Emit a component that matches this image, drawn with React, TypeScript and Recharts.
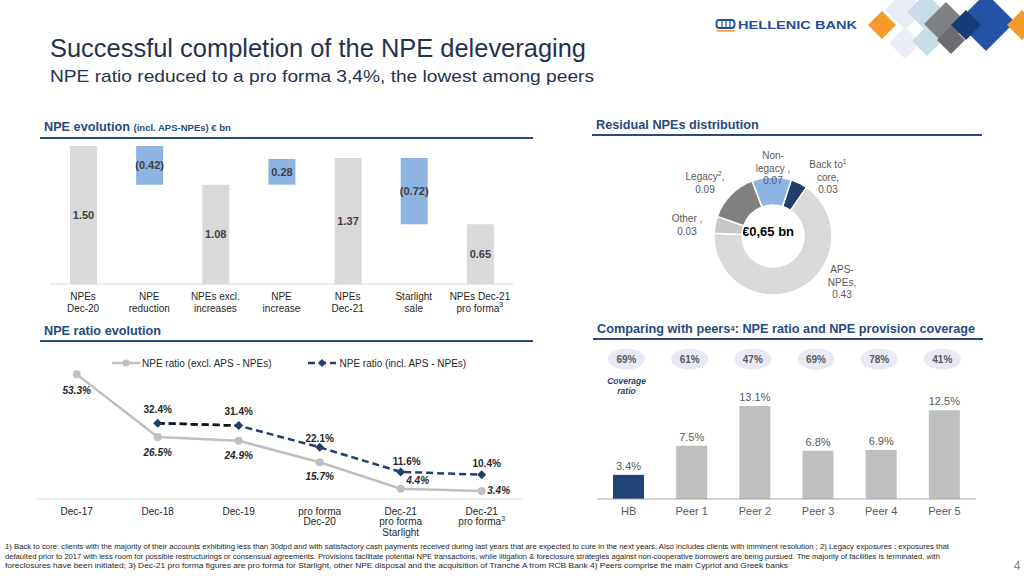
import React from "react";
import { BarChart, Bar, XAxis, YAxis, Cell, LabelList, PieChart, Pie, LineChart, Line } from "recharts";

const FONT = '"Liberation Sans", Arial, Helvetica, sans-serif';
const NAVY = "#1F3F6E";
const HEAD = "#264B7D";

// NPE evolution (incl. APS-NPEs), € bn
const wfCategories = ["NPEs\nDec-20", "NPE\nreduction", "NPEs excl.\nincreases", "NPE\nincrease", "NPEs\nDec-21", "Starlight\nsale", "NPEs Dec-21\npro forma^3"];
const wfBase = [0, 1.08, 0, 1.08, 0, 0.65, 0];
const wfValue = [1.5, 0.42, 1.08, 0.28, 1.37, 0.72, 0.65];
const wfLabels = ["1.50", "(0.42)", "1.08", "0.28", "1.37", "(0.72)", "0.65"];
const wfIsTotal = [true, false, true, false, true, false, true];

// Residual NPEs distribution, € bn (clockwise from the top)
const resNames = ["Back to core", "APS-NPEs", "Other", "Legacy", "Non-legacy"];
const resValues = [0.03, 0.43, 0.03, 0.09, 0.07];
const resLabelLines = [["Back to^1", "core,"], ["APS-", "NPEs,"], ["Other ,"], ["Legacy^2,"], ["Non-", "legacy ,"]];
const resColors = ["#1F3F6E", "#D9D9D9", "#C8C8C8", "#808080", "#8DB4E2"];
const resLabelPos = [[55, -59], [69, 46], [-86, -11], [-68, -53], [0, -68]];

// NPE ratio evolution, %
const ratioCategories = ["Dec-17", "Dec-18", "Dec-19", "pro forma\nDec-20", "Dec-21\npro forma\nStarlight", "Dec-21\npro forma^3"];
const ratioExclAps = [53.3, 26.5, 24.9, 15.7, 4.4, 3.4];
const ratioInclAps: (number | null)[] = [null, 32.4, 31.4, 22.1, 11.6, 10.4];
const exclLabelPos = [[0, 16], [0, 15], [0, 15], [0, 14], [17, -8], [17, -1]];
const inclLabelPos = [[0, 0], [0, -14], [0, -14], [0, -9], [6, -10], [5, -11]];

// Peers: NPE ratio (%) and coverage (%)
const peerNames = ["HB", "Peer 1", "Peer 2", "Peer 3", "Peer 4", "Peer 5"];
const peerNpeRatio = [3.4, 7.5, 13.1, 6.8, 6.9, 12.5];
const peerCoverage = [69, 61, 47, 69, 78, 41];

const footnotes = [
  "1) Back to core: clients with the majority of their accounts exhibiting less than 30dpd and with satisfactory cash payments received during last years that are expected to cure in the next years. Also includes clients with imminent resolution ;  2) Legacy exposures : exposures that",
  "defaulted prior to 2017 with less room for possible restructurings or consensual agreements. Provisions facilitate potential NPE transactions, while litigation & foreclosure strategies against non-cooperative borrowers are being pursued. The majority of facilities is terminated, with",
  "foreclosures have been initiated; 3) Dec-21 pro forma figures are pro forma for Starlight, other NPE disposal and the acquisition of Tranche A from RCB Bank 4) Peers comprise the main Cypriot and Greek banks",
];
const footnoteWidths = [944, 935, 783];

const wfData = wfCategories.map((c, i) => ({ name: c, base: wfBase[i], value: wfValue[i], label: wfLabels[i] }));
const resData = resNames.map((n, i) => ({ name: n, value: resValues[i] }));
const ratioData = ratioCategories.map((c, i) => ({
  name: c,
  excl: ratioExclAps[i],
  incl: ratioInclAps[i],
  inclFirst: i === 1 || i === 2 ? ratioInclAps[i] : null,
}));
const peerData = peerNames.map((n, i) => ({ name: n, ratio: peerNpeRatio[i], coverage: peerCoverage[i] }));

function renderSup(s: string, fs: number) {
  const parts = s.split(/\^(\d)/);
  if (parts.length === 1) return s;
  return (
    <>
      {parts[0]}
      <tspan dy={-fs * 0.45} fontSize={fs * 0.7}>{parts[1]}</tspan>
      {parts[2] ? <tspan dy={fs * 0.45}>{parts[2]}</tspan> : null}
    </>
  );
}

function MultiLineTick(props: any) {
  const { x, y, payload, lineHeight, fontSize, fill, firstDy } = props;
  const lines = String(payload.value).split("\n");
  return (
    <text x={x} y={y} textAnchor="middle" fontSize={fontSize} fill={fill} fontFamily={FONT}>
      {lines.map((l: string, i: number) => (
        <tspan key={i} x={x} y={y + firstDy + i * lineHeight}>{renderSup(l, fontSize)}</tspan>
      ))}
    </text>
  );
}

function SectionHeader({ left, top, width, children }: { left: number; top: number; width: number; children: React.ReactNode }) {
  return (
    <div style={{ position: "absolute", left, top, width }}>
      <div style={{ fontWeight: "bold", fontSize: 12.7, color: HEAD, paddingLeft: 4, whiteSpace: "nowrap", lineHeight: "14px" }}>{children}</div>
      <div style={{ marginTop: 2, height: 2, background: HEAD }} />
    </div>
  );
}

const logoDiamonds = [
  { cx: 905, cy: 10, r: 20, fill: "#E9EBF5" },
  { cx: 905, cy: 43, r: 16, fill: "#ECEEF6" },
  { cx: 882, cy: 25, r: 14, fill: "#F39A2B" },
  { cx: 926, cy: 12, r: 19, fill: "#C9DDE9" },
  { cx: 927, cy: 41, r: 15, fill: "#C9DDE9" },
  { cx: 946, cy: 24, r: 22, fill: "#7E8083" },
  { cx: 951, cy: 40, r: 14, fill: "#6B6D70" },
  { cx: 986, cy: 22, r: 29, fill: "#2452A4" },
  { cx: 966, cy: 25, r: 15, fill: "#173B73" },
  { cx: 1022, cy: 25, r: 15, fill: "#F39A2B" },
];

function Diamond(props: any) {
  const { cx, cy, index, value } = props;
  if (cx == null || cy == null || value == null) return <g key={`dm-${index}`} />;
  const h = 4.5;
  return <polygon key={`dm-${index}`} points={`${cx},${cy - h} ${cx + h},${cy} ${cx},${cy + h} ${cx - h},${cy}`} fill={NAVY} />;
}

function ExclLabel(props: any) {
  const { x, y, value, index } = props;
  if (value == null) return null;
  const [dx, dy] = exclLabelPos[index];
  return (
    <text x={x + dx} y={y + dy} textAnchor="middle" dominantBaseline="central" fontSize={10} fontWeight="bold" fontStyle="italic" fill="#262626" fontFamily={FONT}>
      {Number(value).toFixed(1)}%
    </text>
  );
}

function InclLabel(props: any) {
  const { x, y, value, index } = props;
  if (value == null) return null;
  const [dx, dy] = inclLabelPos[index];
  return (
    <text x={x + dx} y={y + dy} textAnchor="middle" dominantBaseline="central" fontSize={10} fontWeight="bold" fill="#262626" fontFamily={FONT}>
      {Number(value).toFixed(1)}%
    </text>
  );
}

function CoverageBubble(props: any) {
  const { x, width, value, index } = props;
  const cx = Number(x) + Number(width) / 2 - 2;
  return (
    <g>
      <ellipse cx={cx} cy={14} rx={18.5} ry={10.5} fill="#E8E9F5" />
      <text x={cx} y={14} textAnchor="middle" dominantBaseline="central" fontSize={10} fontWeight="bold" fill="#595959" fontFamily={FONT}>
        {value}%
      </text>
      {index === 0 && (
        <text x={cx} y={36} textAnchor="middle" fontSize={8.5} fontWeight="bold" fontStyle="italic" fill={NAVY} fontFamily={FONT}>
          <tspan x={cx} dy={3}>Coverage</tspan>
          <tspan x={cx} dy={10}>ratio</tspan>
        </text>
      )}
    </g>
  );
}

function renderResLabel(props: any) {
  const { cx, cy, index } = props;
  const [dx, dy] = resLabelPos[index];
  const lines = [...resLabelLines[index], resValues[index].toFixed(2)];
  const lh = 12.5;
  const x = cx + dx;
  const y0 = cy + dy - ((lines.length - 1) * lh) / 2;
  return (
    <text key={`rl-${index}`} x={x} y={y0} textAnchor="middle" fontSize={10} fill="#595959" fontFamily={FONT}>
      {lines.map((l, i) => (
        <tspan key={i} x={x} y={y0 + i * lh + 3.5}>{renderSup(l, 10)}</tspan>
      ))}
    </text>
  );
}

export default function App() {
  return (
    <div style={{ position: "relative", width: 1024, height: 576, overflow: "hidden", background: "#fff", fontFamily: FONT }}>
      <style>{"body{margin:0}"}</style>

      {/* title + logo */}
      <svg width={1024} height={100} style={{ position: "absolute", left: 0, top: 0 }}>
        {logoDiamonds.map((d, i) => (
          <polygon key={i} points={`${d.cx},${d.cy - d.r} ${d.cx + d.r},${d.cy} ${d.cx},${d.cy + d.r} ${d.cx - d.r},${d.cy}`} fill={d.fill} />
        ))}
        <rect x={716.5} y={20} width={18} height={8} rx={3} fill="none" stroke="#1F4E9A" strokeWidth={1.8} />
        <line x1={722} y1={21} x2={722} y2={27} stroke="#1F4E9A" strokeWidth={1.2} />
        <line x1={726} y1={21} x2={726} y2={27} stroke="#1F4E9A" strokeWidth={1.2} />
        <line x1={730} y1={21} x2={730} y2={27} stroke="#1F4E9A" strokeWidth={1.2} />
        <rect x={716.5} y={30} width={18} height={1.6} fill="#F39A2B" />
        <text x={738} y={29} fontSize={11} fontWeight="bold" fill="#1F4E9A" textLength={119} lengthAdjust="spacingAndGlyphs" fontFamily={FONT}>
          HELLENIC BANK
        </text>
        <text x={50} y={57} fontSize={26} fill="#1F3350" textLength={536} lengthAdjust="spacingAndGlyphs" fontFamily={FONT}>
          Successful completion of the NPE deleveraging
        </text>
        <text x={50} y={82} fontSize={17} fill="#1F3350" textLength={544} lengthAdjust="spacingAndGlyphs" fontFamily={FONT}>
          NPE ratio reduced to a pro forma 3,4%, the lowest among peers
        </text>
      </svg>

      <SectionHeader left={40} top={120} width={493}>
        NPE evolution <span style={{ fontSize: 9.5 }}>(incl. APS-NPEs) € bn</span>
      </SectionHeader>
      <SectionHeader left={592} top={118} width={390}>Residual NPEs distribution</SectionHeader>
      <SectionHeader left={40} top={324} width={493}>NPE ratio evolution</SectionHeader>
      <SectionHeader left={593} top={322} width={390}>
        Comparing with peers<span style={{ fontSize: 8, verticalAlign: "top" }}>4</span>: NPE ratio and NPE provision coverage
      </SectionHeader>

      {/* waterfall */}
      <div style={{ position: "absolute", left: 40, top: 136 }}>
        <BarChart width={490} height={180} data={wfData} margin={{ top: 10, right: 17, left: 10, bottom: 0 }}>
          <XAxis
            dataKey="name"
            height={32}
            interval={0}
            tickLine={false}
            axisLine={{ stroke: "#D9D9D9" }}
            tick={(p: any) => <MultiLineTick {...p} lineHeight={11.5} fontSize={10} fill="#262626" firstDy={8} />}
          />
          <YAxis hide domain={[0, 1.5]} />
          <Bar dataKey="base" stackId="w" fill="transparent" barSize={27} isAnimationActive={false} />
          <Bar dataKey="value" stackId="w" barSize={27} isAnimationActive={false}>
            {wfData.map((_, i) => (
              <Cell key={i} fill={wfIsTotal[i] ? "#D9D9D9" : "#8DB4E2"} />
            ))}
            <LabelList dataKey="label" position="center" fill="#404040" fontSize={11} fontWeight="bold" fontFamily={FONT} />
          </Bar>
        </BarChart>
      </div>

      {/* donut */}
      <div style={{ position: "absolute", left: 640, top: 140 }}>
        <PieChart width={240} height={170}>
          <Pie
            data={resData}
            dataKey="value"
            nameKey="name"
            cx={128}
            cy={91}
            innerRadius={31}
            outerRadius={59}
            startAngle={72}
            endAngle={-288}
            stroke="#fff"
            strokeWidth={1.5}
            label={renderResLabel}
            labelLine={false}
            isAnimationActive={false}
          >
            {resData.map((_, i) => (
              <Cell key={i} fill={resColors[i]} />
            ))}
          </Pie>
          <text x={128} y={91} textAnchor="middle" dominantBaseline="central" fontSize={13} fontWeight="bold" fill="#000" fontFamily={FONT}>
            €0,65 bn
          </text>
        </PieChart>
      </div>

      {/* ratio legend */}
      <div style={{ position: "absolute", left: 110, top: 357, display: "flex", alignItems: "center", fontSize: 10, color: "#262626", whiteSpace: "nowrap" }}>
        <svg width={32} height={12}>
          <line x1={2} y1={6} x2={30} y2={6} stroke="#BFBFBF" strokeWidth={2.5} />
          <circle cx={16} cy={6} r={3.5} fill="#BFBFBF" />
        </svg>
        <span style={{ marginRight: 36 }}>NPE ratio (excl. APS - NPEs)</span>
        <svg width={30} height={12}>
          <line x1={1} y1={6} x2={29} y2={6} stroke={NAVY} strokeWidth={2.5} strokeDasharray="7 4" />
          <polygon points="15,2 19,6 15,10 11,6" fill={NAVY} />
        </svg>
        <span style={{ marginLeft: 2 }}>NPE ratio (incl. APS - NPEs)</span>
      </div>

      {/* NPE ratio lines */}
      <div style={{ position: "absolute", left: 30, top: 345 }}>
        <LineChart width={500} height={195} data={ratioData} margin={{ top: 13.7, right: 7.8, left: 6.2, bottom: 0 }}>
          <XAxis
            dataKey="name"
            height={41}
            interval={0}
            padding={{ left: 40.5, right: 40.5 }}
            tickLine={false}
            axisLine={{ stroke: "#D9D9D9" }}
            tick={(p: any) => <MultiLineTick {...p} lineHeight={10.5} fontSize={10} fill="#262626" firstDy={7.5} />}
          />
          <YAxis hide domain={[0, 60]} />
          <Line dataKey="excl" stroke="#BFBFBF" strokeWidth={2.5} dot={{ r: 4, fill: "#BFBFBF", stroke: "#BFBFBF", strokeWidth: 0 }} isAnimationActive={false}>
            <LabelList dataKey="excl" content={ExclLabel} />
          </Line>
          <Line dataKey="incl" stroke={NAVY} strokeWidth={2.5} strokeDasharray="7 4" dot={false} isAnimationActive={false} />
          <Line dataKey="inclFirst" stroke="#111" strokeWidth={2.5} strokeDasharray="7 4" dot={false} isAnimationActive={false} />
          <Line dataKey="incl" stroke="none" dot={Diamond} activeDot={false} isAnimationActive={false}>
            <LabelList dataKey="incl" content={InclLabel} />
          </Line>
        </LineChart>
      </div>

      {/* peers */}
      <div style={{ position: "absolute", left: 590, top: 345 }}>
        <BarChart width={400} height={185} data={peerData} margin={{ top: 5, right: 14, left: 7, bottom: 0 }}>
          <XAxis dataKey="name" height={31} interval={0} tickLine={false} axisLine={{ stroke: "#A6A6A6" }} tick={{ fontSize: 11, fill: "#595959", fontFamily: FONT }} />
          <YAxis hide domain={[0, 21]} />
          <Bar dataKey="ratio" barSize={31} isAnimationActive={false}>
            {peerData.map((_, i) => (
              <Cell key={i} fill={i === 0 ? "#1F4373" : "#BFBFBF"} />
            ))}
            <LabelList dataKey="ratio" position="top" offset={5} fill="#595959" fontSize={11} fontFamily={FONT} formatter={(v: any) => `${Number(v).toFixed(1)}%`} />
            <LabelList dataKey="coverage" content={CoverageBubble} />
          </Bar>
        </BarChart>
      </div>

      {/* footnotes */}
      <svg width={1024} height={40} style={{ position: "absolute", left: 0, top: 536 }}>
        {footnotes.map((f, i) => (
          <text key={i} x={5} y={13 + i * 9.5} fontSize={6.8} fill="#262626" textLength={footnoteWidths[i]} lengthAdjust="spacingAndGlyphs" fontFamily={FONT}>
            {f}
          </text>
        ))}
        <text x={1017} y={34} textAnchor="middle" fontSize={12} fill="#7F7F7F" fontFamily={FONT}>4</text>
      </svg>
    </div>
  );
}
